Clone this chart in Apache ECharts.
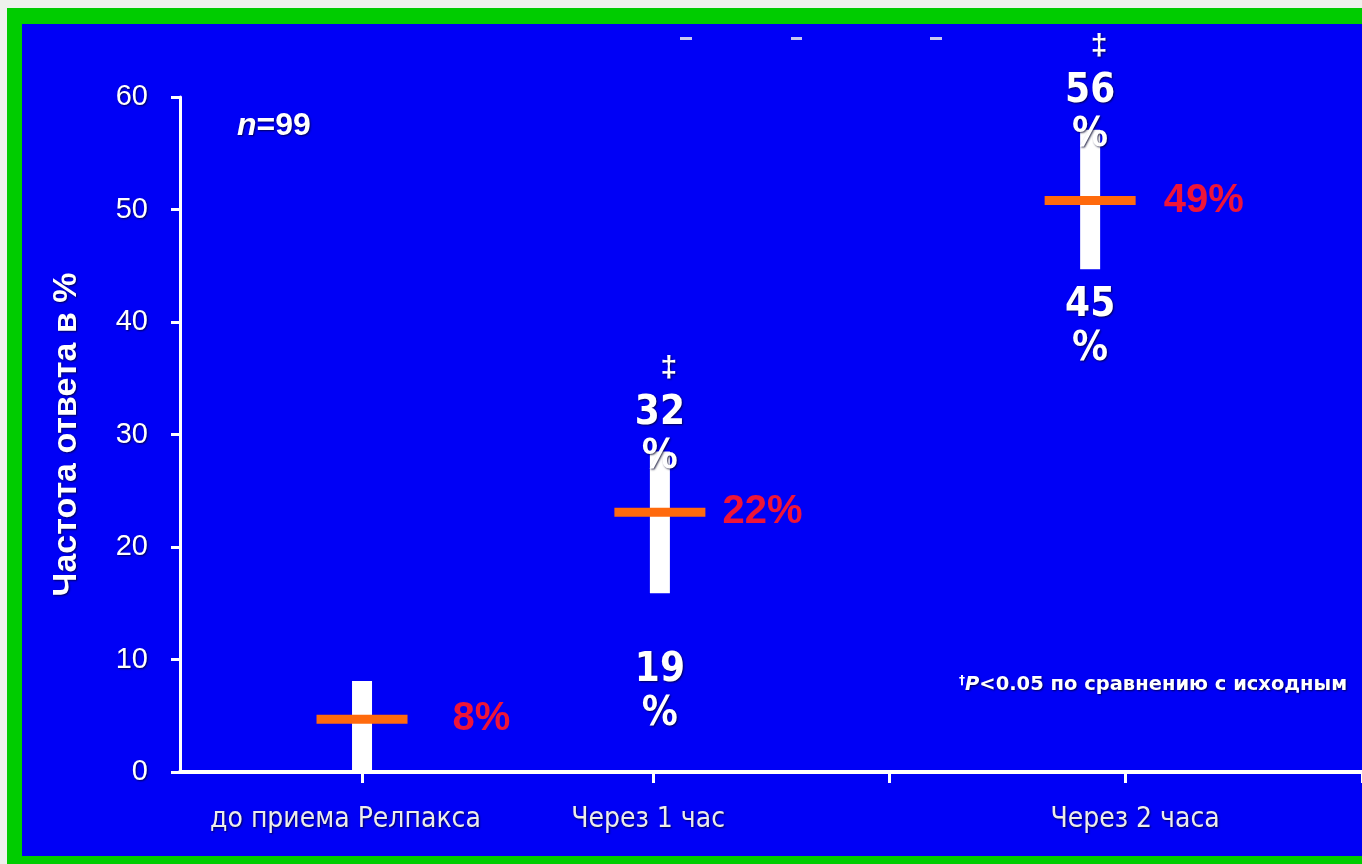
<!DOCTYPE html>
<html>
<head>
<meta charset="utf-8">
<script src="https://cdn.jsdelivr.net/npm/echarts@6/dist/echarts.min.js"></script>
<style>
    html, body { margin: 0; padding: 0; background: #eef1ec; }
    #frame { position: absolute; left: 7px; top: 8px; width: 1355px; height: 856px; background: #00cc00; }
    #chart { position: absolute; left: 22px; top: 24px; width: 1340px; height: 832px; }
</style>
</head>
<body>
<div id="frame"></div>
<div id="chart"></div>
<script>
// data
const categories = ['до приема Релпакса', 'Через 1 час', 'Через 2 часа'];
const categoryX = [0.77, 2.03, 3.85];
const rangeLow = [0, 15.9, 44.7];
const rangeHigh = [8.1, 28.5, 57.1];
const meanValue = [4.7, 23.1, 50.8];
const meanLabels = ['8%', '22%', '49%'];
const highLabels = ['', '32', '56'];
const lowLabels = ['', '19', '45'];
const xTickValues = [0.77, 2, 3, 4, 5];
const xLabelValues = [0.7, 1.98, 4.04];

// label gaps (px) per point
const meanLabelGap = [45, 17, 28];
const lowLabelGap = [0, 55, 14];

const shadow = { textShadowColor: 'rgba(0,0,40,0.8)', textShadowBlur: 2, textShadowOffsetX: 1, textShadowOffsetY: 1 };
const sans = 'Arial, Liberation Sans, sans-serif';
const narrow = 'Liberation Sans Narrow, Arial Narrow, DejaVu Sans Condensed, sans-serif';

let rangeData = categoryX.map((x, i) => [x, rangeLow[i], rangeHigh[i]]);

let meanData = categoryX.map((x, i) => ({
    value: [x, meanValue[i]],
    label: { distance: meanLabelGap[i], formatter: meanLabels[i] }
}));

let highData = [];
let lowData = [];
categoryX.forEach((x, i) => {
    if (highLabels[i]) {
        highData.push({ value: [x, rangeHigh[i]], label: { formatter: '{d|‡}\n{v|' + highLabels[i] + '}\n{v|%}' } });
    }
    if (lowLabels[i]) {
        lowData.push({ value: [x, rangeLow[i]], label: { distance: lowLabelGap[i], formatter: '{v|' + lowLabels[i] + '}\n{v|%}' } });
    }
});

let labelRich = {
    d: Object.assign({ color: '#fff', fontSize: 30, fontWeight: 'bold', fontFamily: sans, lineHeight: 45, padding: [0, 0, 0, 18] }, shadow),
    v: Object.assign({ color: '#fff', fontSize: 40, fontWeight: 'bold', fontFamily: narrow, lineHeight: 44 }, shadow)
};

let option = {
    backgroundColor: '#0000f6',
    animation: false,
    grid: { left: 158, right: 0, top: 73, bottom: 84 },
    xAxis: {
        type: 'value',
        min: 0,
        max: 5,
        splitLine: { show: false },
        axisLine: { show: true, lineStyle: { color: '#fff', width: 4 } },
        axisTick: { show: true, length: 11, customValues: xTickValues, lineStyle: { color: '#fff', width: 3 } },
        axisLabel: {
            customValues: xLabelValues,
            margin: 34,
            color: '#ececec',
            fontSize: 28,
            fontFamily: narrow,
            ...shadow,
            formatter: function (v) {
                let best = 0;
                xLabelValues.forEach((lv, i) => { if (Math.abs(lv - v) < Math.abs(xLabelValues[best] - v)) best = i; });
                return categories[best];
            }
        }
    },
    yAxis: {
        type: 'value',
        min: 0,
        max: 60,
        interval: 10,
        name: 'Частота ответа в %',
        nameLocation: 'middle',
        nameRotate: 90,
        nameGap: 96,
        nameTextStyle: { color: '#fff', fontSize: 34, fontWeight: 'bold', fontFamily: sans, ...shadow },
        splitLine: { show: false },
        axisLine: { show: true, lineStyle: { color: '#fff', width: 3 } },
        axisTick: { show: true, length: 9, lineStyle: { color: '#fff', width: 3 } },
        axisLabel: { color: '#fff', fontSize: 29, margin: 32, fontFamily: sans, ...shadow }
    },
    graphic: [
        { type: 'rect', shape: { x: 658, y: 13, width: 12, height: 3 }, style: { fill: '#c8c8f0' } },
        { type: 'rect', shape: { x: 769, y: 13, width: 11, height: 3 }, style: { fill: '#c8c8f0' } },
        { type: 'rect', shape: { x: 908, y: 13, width: 12, height: 3 }, style: { fill: '#c8c8f0' } },
        {
            type: 'text', left: 215, top: 86,
            style: {
                text: '{i|n}{t|=99}',
                rich: {
                    i: { fill: '#fff', fontSize: 32, fontWeight: 'bold', fontStyle: 'italic', fontFamily: sans, ...shadow },
                    t: { fill: '#fff', fontSize: 32, fontWeight: 'bold', fontFamily: sans, ...shadow }
                }
            }
        },
        {
            type: 'text', left: 937, top: 651,
            style: {
                text: '{s|†}{i|P}{t|<0.05 по сравнению с исходным}',
                rich: {
                    s: { fill: '#fff', fontSize: 12, fontWeight: 'bold', fontFamily: 'DejaVu Sans', verticalAlign: 'top', padding: [0, 0, 8, 0] },
                    i: { fill: '#fff', fontSize: 19.5, fontWeight: 'bold', fontStyle: 'italic', fontFamily: 'DejaVu Sans', ...shadow },
                    t: { fill: '#fff', fontSize: 19.5, fontWeight: 'bold', fontFamily: 'DejaVu Sans', ...shadow }
                }
            }
        }
    ],
    series: [
        {
            name: 'range',
            type: 'custom',
            z: 2,
            data: rangeData,
            renderItem: function (params, api) {
                let lo = api.coord([api.value(0), api.value(1)]);
                let hi = api.coord([api.value(0), api.value(2)]);
                return {
                    type: 'rect',
                    shape: { x: lo[0] - 10, y: hi[1], width: 20, height: lo[1] - hi[1] },
                    style: { fill: '#ffffff' }
                };
            }
        },
        {
            name: 'mean',
            type: 'scatter',
            z: 3,
            symbol: 'rect',
            symbolSize: [91, 9],
            itemStyle: { color: '#ff6a0d', opacity: 1 },
            label: {
                show: true,
                position: 'right',
                color: '#ee1438',
                fontSize: 40,
                fontWeight: 'bold',
                fontFamily: sans
            },
            data: meanData
        },
        {
            name: 'high',
            type: 'scatter',
            z: 4,
            symbolSize: 0,
            itemStyle: { opacity: 1 },
            label: { show: true, position: 'top', distance: -28, rich: labelRich },
            data: highData
        },
        {
            name: 'low',
            type: 'scatter',
            z: 4,
            symbolSize: 0,
            itemStyle: { opacity: 1 },
            label: { show: true, position: 'bottom', rich: labelRich },
            data: lowData
        }
    ]
};

let chart = echarts.init(document.getElementById('chart'));
chart.setOption(option);
</script>
</body>
</html>
